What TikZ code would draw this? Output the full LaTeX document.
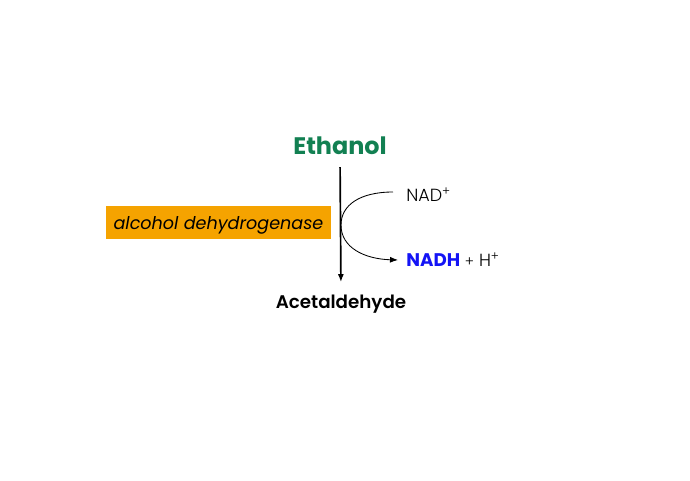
\documentclass[tikz,border=0pt]{standalone}
\usepackage{fontspec}
\setmainfont{Poppins}
\newfontfamily\lightfont{Poppins Light}
\newfontfamily\semifont{Poppins SemiBold}
\usetikzlibrary{arrows.meta, positioning}

\definecolor{ethgreen}{RGB}{18,128,82}
\definecolor{enzorange}{RGB}{245,163,0}
\definecolor{nadhblue}{RGB}{20,20,245}

\begin{document}
\begin{tikzpicture}[x=0.025cm, y=-0.025cm,
    compound/.style={inner sep=0pt, font=\fontsize{13}{15}\selectfont\semifont},
    cofactor/.style={inner sep=0pt, anchor=west, font=\fontsize{12.5}{15}\selectfont\lightfont},
    enzyme/.style={fill=enzorange, inner xsep=0pt, inner ysep=0pt, text height=10.6pt, text depth=0pt, minimum width=5.6cm, minimum height=0.825cm, font=\fontsize{12.5}{15}\selectfont\itshape},
    tip/.style={-{Latex[length=2mm,width=1.5mm]}}]
    \useasboundingbox (0,0) rectangle (690,480);

    % substrate and product
    \node[compound, font=\fontsize{17}{20}\selectfont\bfseries, text=ethgreen] (ethanol) at (340,146) {Ethanol};
    \node[compound, anchor=base] (acetaldehyde) at (341,308) {Acetaldehyde};
    \draw[tip, line width=1.2pt, shorten <=0.3cm, shorten >=0.3cm] (ethanol.south) -- (acetaldehyde.north);

    % enzyme
    \node[enzyme] (adh) at (218.5,222.5) {alcohol dehydrogenase};

    % cofactors
    \node[cofactor] (nad) at (406,195) {NAD\textsuperscript{+}};
    \node[cofactor] (nadh) at (406,260) {\textcolor{nadhblue}{\normalfont\fontsize{13}{15}\selectfont\bfseries NADH} {\fontsize{10}{12}\selectfont+} H\textsuperscript{+}};
    \draw[tip, line width=0.6pt] ([xshift=-0.325cm,yshift=0.075cm]nad.west) .. controls (360,192) and (341,205) .. (341,225)
        .. controls (341,248) and (365,259) .. ([xshift=-0.2cm]nadh.west);
\end{tikzpicture}
\end{document}
